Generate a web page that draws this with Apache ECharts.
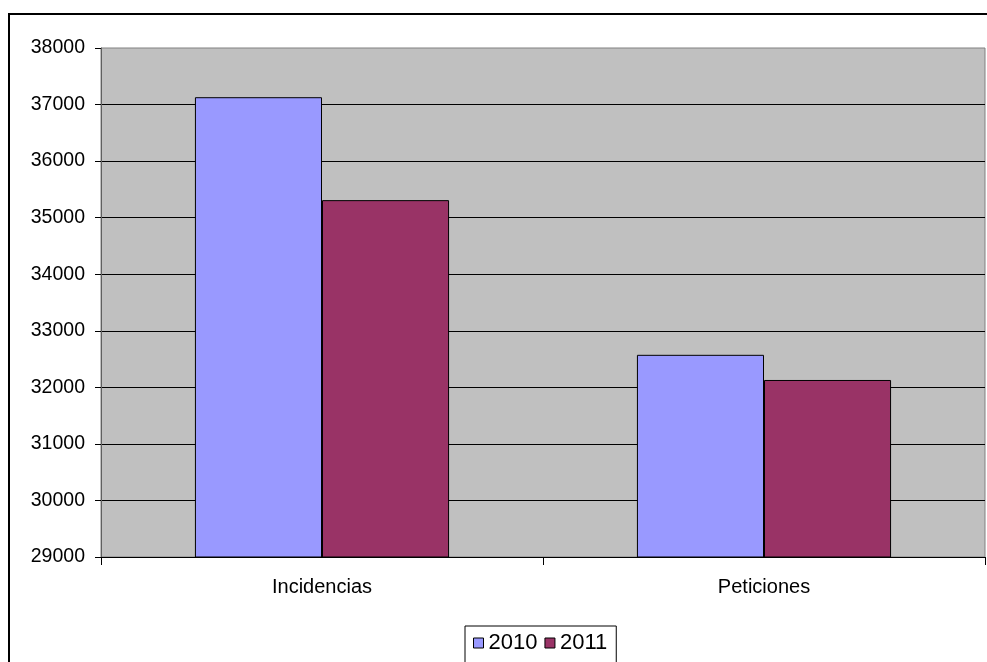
<!DOCTYPE html>
<html>
<head>
<meta charset="utf-8">
<script src="https://cdn.jsdelivr.net/npm/echarts@6/dist/echarts.min.js"></script>
<style>
  html, body { margin: 0; padding: 0; background: #ffffff; }
  #chart { width: 987px; height: 662px; }
</style>
</head>
<body>
<div id="chart"></div>
<script>
// Datos
const categorias = ['Incidencias', 'Peticiones'];
const anios = ['2010', '2011'];
const valores2010 = [37130, 32575];
const valores2011 = [35310, 32130];
const colores = ['#9999FF', '#993366'];

const chart = echarts.init(document.getElementById('chart'));
const fuente = 'Liberation Sans, Arial, sans-serif';

const series = [valores2010, valores2011].map((datos, i) => ({
  name: anios[i],
  type: 'bar',
  data: datos,
  barGap: '0%',
  barCategoryGap: '42.5%',
  itemStyle: {
    color: colores[i],
    borderColor: '#000000',
    borderWidth: 1,
  },
  emphasis: { disabled: true },
}));

const option = {
  animation: false,
  backgroundColor: '#ffffff',
  graphic: [
    {
      type: 'rect',
      shape: { x: 9, y: 14, width: 1000, height: 700 },
      style: { fill: 'none', stroke: '#000000', lineWidth: 2 },
      z: 100,
    },
  ],
  grid: {
    left: 101,
    right: 2,
    top: 48,
    bottom: 105,
    show: true,
    backgroundColor: '#C0C0C0',
    borderColor: '#808080',
    borderWidth: 1,
  },
  legend: {
    data: anios,
    left: 465,
    top: 626,
    padding: [6, 9, 40, 8],
    backgroundColor: '#ffffff',
    borderColor: '#000000',
    borderWidth: 1,
    itemWidth: 10,
    itemHeight: 10,
    itemGap: 7,
    icon: 'rect',
    itemStyle: { borderColor: '#000000', borderWidth: 1 },
    textStyle: { fontFamily: fuente, fontSize: 22, color: '#000000' },
  },
  xAxis: {
    type: 'category',
    data: categorias,
    axisLine: { lineStyle: { color: '#000000', width: 1 } },
    axisTick: { show: true, length: 8, lineStyle: { color: '#000000' } },
    axisLabel: { fontFamily: fuente, fontSize: 20, color: '#000000', margin: 20 },
  },
  yAxis: {
    type: 'value',
    min: 29000,
    max: 38000,
    interval: 1000,
    axisLine: { show: true, lineStyle: { color: '#606060' } },
    axisTick: { show: true, length: 6, lineStyle: { color: '#000000' } },
    axisLabel: {
      fontFamily: fuente,
      fontSize: 19.5,
      color: '#000000',
      margin: 16,
      formatter: (v) => String(v),
    },
    splitLine: { show: true, showMaxLine: false, lineStyle: { color: '#000000', width: 1 } },
  },
  series: series,
};

chart.setOption(option);
</script>
</body>
</html>
